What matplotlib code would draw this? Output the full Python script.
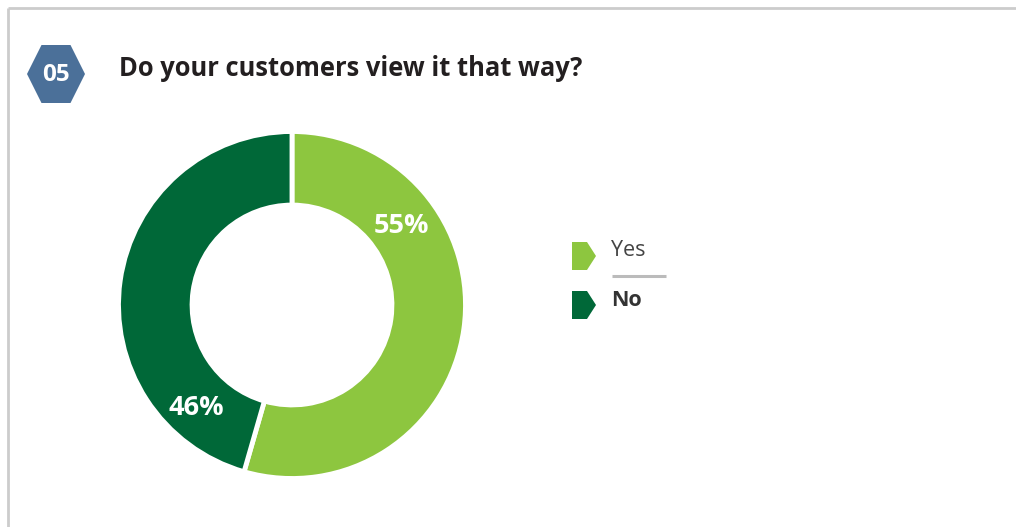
import matplotlib
matplotlib.use("Agg")
import matplotlib.pyplot as plt
import matplotlib.patches as patches
import numpy as np

# chart data
title = "Do your customers view it that way?"
badge = "05"
labels = ["Yes", "No"]
values = [55, 46]
colors = ["#8dc63f", "#006838"]

W, H = 1016, 527
plt.rcParams['font.family'] = ['Open Sans', 'DejaVu Sans']

fig = plt.figure(figsize=(W / 100, H / 100), dpi=100)
fig.patch.set_facecolor("white")

# overlay axes in pixel coordinates (y down) for frame, badge, title, legend
ov = fig.add_axes([0, 0, 1, 1])
ov.set_xlim(0, W)
ov.set_ylim(H, 0)
ov.axis('off')

# light gray frame (top and left edges visible)
ov.plot([7.5, W], [7.5, 7.5], color="#cccccc", lw=2, solid_capstyle='butt')
ov.plot([7.5, 7.5], [7.5, H], color="#cccccc", lw=2, solid_capstyle='butt')

# hexagon badge
cx, cy, hw, hh = 56, 74, 29, 29
hexagon = patches.Polygon([(cx - hw, cy), (cx - hw / 2, cy - hh), (cx + hw / 2, cy - hh),
                           (cx + hw, cy), (cx + hw / 2, cy + hh), (cx - hw / 2, cy + hh)],
                          closed=True, facecolor="#4b7099", edgecolor="none")
ov.add_patch(hexagon)
ov.text(cx, cy + 1, badge, color="white", fontsize=17.5, fontweight="bold",
        ha="center", va="center")
ov.text(119, 68, title, color="#231f20", fontsize=18.4, fontweight="bold",
        ha="left", va="center")

# donut
R = 173.5
pcx, pcy = 292, 305
ax = fig.add_axes([(pcx - R) / W, (H - pcy - R) / H, 2 * R / W, 2 * R / H])
wedges, _ = ax.pie(values, colors=colors, startangle=90, counterclock=False,
                   radius=1.0, wedgeprops=dict(width=0.424, edgecolor="white", linewidth=3.5))
ax.set_xlim(-1, 1)
ax.set_ylim(-1, 1)
ax.set_aspect('equal')
ax.axis('off')

# percentage labels
label_pos = [(35.7, 0.78), (227, 0.81)]
for v, (ang, r) in zip(values, label_pos):
    a = np.deg2rad(ang)
    ax.text(r * np.cos(a), r * np.sin(a), f"{v}%", color="white", fontsize=19.5,
            fontweight="bold", ha="center", va="center")

# legend with arrow-shaped markers
def arrow_marker(x0, y0, w=24, h=28, tip=9, color="k"):
    pts = [(x0, y0), (x0 + w - tip, y0), (x0 + w, y0 + h / 2),
           (x0 + w - tip, y0 + h), (x0, y0 + h)]
    ov.add_patch(patches.Polygon(pts, closed=True, facecolor=color, edgecolor="none"))

arrow_marker(572, 242, color=colors[0])
arrow_marker(572, 291, color=colors[1])
ov.text(611, 250, labels[0], color="#444444", fontsize=15.5, ha="left", va="center")
ov.plot([612, 666], [276, 276], color="#bbbbbb", lw=2.2, solid_capstyle='butt')
ov.text(611, 300, labels[1], color="#333333", fontsize=15.5, fontweight="bold",
        ha="left", va="center")

fig.savefig("out.png", dpi=100, facecolor="white")
